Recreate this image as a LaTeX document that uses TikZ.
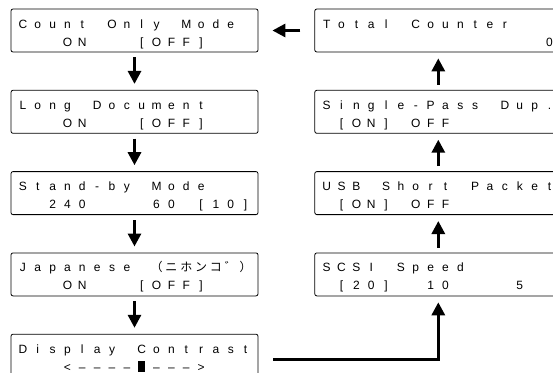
\documentclass[tikz,border=0pt]{standalone}
\usepackage{fontspec}
\setmainfont{Liberation Sans}
\newfontfamily\cjk{Noto Sans CJK JP}
\usetikzlibrary{arrows.meta, positioning}

% one LCD character cell, 16 cells per line
\newcommand\blk{\rule[-0.5pt]{7pt}{11pt}}
\def\lcdstopmac{\lcdstop}
\newcommand\lcd[1]{\lcdloop#1\lcdstop}
\def\lcdloop#1{\def\lcdarg{#1}\ifx\lcdarg\lcdstopmac\else\makebox[14.85pt]{#1}\expandafter\lcdloop\fi}
% two lines of the display
\newcommand\lcdtext[2]{\vbox to 43pt{\offinterlineskip\vskip19pt
  \hbox to 247pt{\kern4.5pt\smash{\lcd{#1}}\hss}\vskip18pt
  \hbox to 247pt{\kern4.5pt\smash{\lcd{#2}}\hss}\vss}}

\tikzset{
        x=1pt, y=-1pt,
        node distance=37.5pt and 56pt, % gap between the displays
        lcd/.style={draw, line width=0.8pt, rounded corners=2pt, inner sep=0pt,
                minimum width=247pt, minimum height=43pt, font=\fontsize{12}{14}\selectfont},
        flow/.style={-{Triangle[width=13pt,length=13pt]}, line width=3pt},
        }

\begin{document}
\begin{tikzpicture}
        \useasboundingbox (0,0) rectangle (553,372);
        \clip (0,0) rectangle (553,372);
        % left column, top to bottom
        \node[lcd] (count) at (134.5,30.5) {\lcdtext{Count~Only~Mode}{~~~ON~~~[OFF]}};
        \node[lcd, below=of count] (longdoc) {\lcdtext{Long~Document}{~~~ON~~~[OFF]}};
        \node[lcd, below=of longdoc] (standby) {\lcdtext{Stand-by~Mode}{~~240~~~~60~[10]}};
        \node[lcd, below=of standby] (japanese) {\lcdtext{Japanese~{\cjk （}{\cjk ニ}{\cjk ホ}{\cjk ン}{\cjk コ}{\cjk ゛}{\cjk ）}}{~~~ON~~~[OFF]}};
        \node[lcd, below=of japanese] (contrast) {\lcdtext{Display~Contrast}{~~~<––––\blk–––>}};
        % right column
        \node[lcd, right=of count] (total) {\lcdtext{Total~Counter}{~~~~~~~~~~~~~~~0}};
        \node[lcd, below=of total] (duplex) {\lcdtext{Single-Pass~Dup.}{~[ON]~OFF}};
        \node[lcd, below=of duplex] (usb) {\lcdtext{USB~Short~Packet}{~[ON]~OFF}};
        \node[lcd, below=of usb] (scsi) {\lcdtext{SCSI~Speed}{~[20]~~10~~~~5}};

        \draw[flow, shorten <=5pt, shorten >=6pt] (count) -- (longdoc);
        \draw[flow, shorten <=5pt, shorten >=6pt] (longdoc) -- (standby);
        \draw[flow, shorten <=5pt, shorten >=6pt] (standby) -- (japanese);
        \draw[flow, shorten <=5pt, shorten >=6pt] (japanese) -- (contrast);
        \draw[flow, shorten >=6pt] ([shift={(15pt,-3.5pt)}]contrast.east) -| (scsi);
        \draw[flow, shorten <=5pt, shorten >=6pt] (scsi) -- (usb);
        \draw[flow, shorten <=5pt, shorten >=6pt] (usb) -- (duplex);
        \draw[flow, shorten <=5pt, shorten >=6pt] (duplex) -- (total);
        \draw[flow, shorten <=14pt, shorten >=14pt] (total) -- (count);
\end{tikzpicture}
\end{document}
